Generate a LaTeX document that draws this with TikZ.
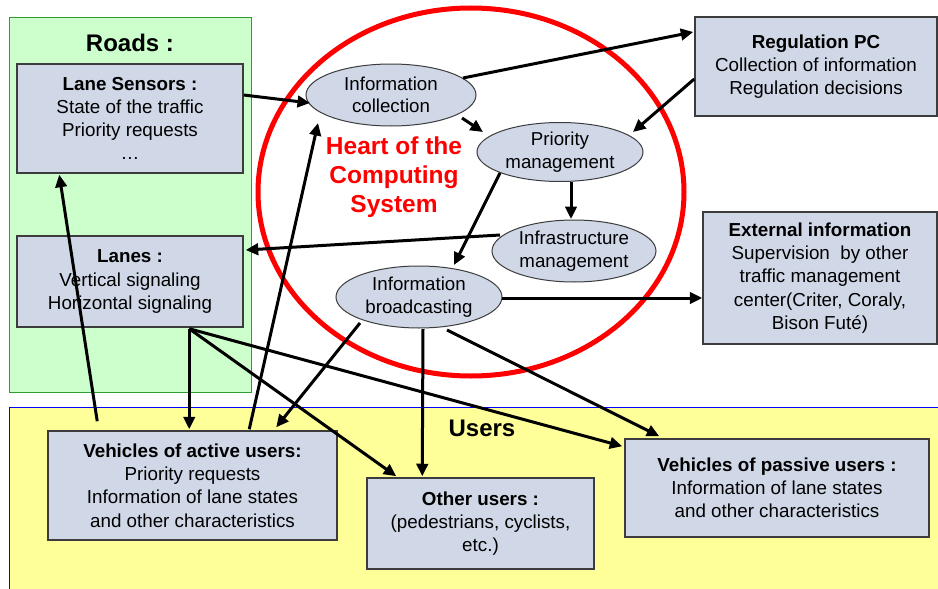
\documentclass[tikz,border=0pt]{standalone}
\usepackage{fontspec}
\setmainfont{Liberation Sans}
\usetikzlibrary{arrows.meta,calc,shapes.geometric}
\definecolor{boxfill}{RGB}{208,216,232}
\definecolor{boxline}{RGB}{60,60,60}
\definecolor{roadfill}{RGB}{204,255,204}
\definecolor{roadline}{RGB}{51,153,51}
\definecolor{userfill}{RGB}{255,255,153}
\definecolor{userline}{RGB}{0,0,255}
\definecolor{heartred}{RGB}{255,0,0}
\newcommand{\boxfont}{\fontsize{18.8}{23.2}\selectfont}
\newcommand{\ellfont}{\fontsize{18.7}{22.5}\selectfont}
\tikzset{
  infobox/.style={draw=boxline, line width=1.5pt, fill=boxfill, inner sep=0pt, align=center, font=\boxfont},
  ellnode/.style={ellipse, draw=boxline, line width=1pt, fill=boxfill, inner sep=0pt},
  elltext/.style={align=center, font=\ellfont, inner sep=0pt},
  arr/.style={line width=3pt, -{Triangle[length=12.5pt,width=11.5pt]}},
  zonetitle/.style={font=\fontsize{24}{28}\selectfont\bfseries, inner sep=0pt}
}
\begin{document}
\begin{tikzpicture}[x=1pt,y=-1pt]
\useasboundingbox (0,0) rectangle (938,589);
\clip (0,0) rectangle (938,589);
\fill[white] (0,0) rectangle (938,589);
% zones
\draw[fill=roadfill, draw=roadline, line width=1pt] (9,17) rectangle (251,392);
\draw[fill=userfill, draw=userline, line width=1pt] (9,407) rectangle (940,600);
\node[zonetitle] (roads) at (130,43) {Roads :};
\node[zonetitle] (users) at (482,428) {Users};
% boxes
\node[infobox, minimum width=226pt, minimum height=109pt] (ls) at (130,118.5)
  {\textbf{Lane Sensors :}\\State of the traffic\\Priority requests\\\ldots};
\node[infobox, minimum width=226pt, minimum height=91pt] (lanes) at (130,281.5)
  {\textbf{Lanes :}\\Vertical signaling\\Horizontal signaling};
\node[infobox, minimum width=289pt, minimum height=109pt] (active) at (192.5,485.5)
  {\textbf{Vehicles of active users:}\\Priority requests\\Information of lane states\\and other characteristics};
\node[infobox, minimum width=227pt, minimum height=91pt] (other) at (480.5,523.5)
  {\textbf{Other users :}\\(pedestrians, cyclists,\\etc.)};
\node[infobox, minimum width=304pt, minimum height=98pt] (passive) at (777,488)
  {\textbf{Vehicles of passive users :}\\Information of lane states\\and other characteristics};
\node[infobox, minimum width=242pt, minimum height=99pt] (rpc) at (816,66.5)
  {\textbf{Regulation PC}\\Collection of information\\Regulation decisions};
\node[infobox, minimum width=234pt, minimum height=132pt] (ext) at (820,278)
  {\textbf{External information}\\Supervision\ \ by other\\traffic management\\center(Criter, Coraly,\\Bison Futé)};
% heart circle
\draw[heartred, line width=5pt] (471,192) ellipse [x radius=213, y radius=184];
\node[align=center, text=heartred, font=\fontsize{24.5}{29}\selectfont\bfseries, inner sep=0pt] (heart) at (394,177)
  {Heart of the\\Computing\\System};
% ellipses
\node[ellnode, minimum width=170pt, minimum height=62pt] (ic) at (391,95) {};
\node[elltext] at (ic) {Information\\collection};
\node[ellnode, minimum width=166pt, minimum height=59pt] (pm) at (560,152) {};
\node[elltext] at (pm) {Priority\\management};
\node[ellnode, minimum width=164pt, minimum height=62pt] (im) at (574,251) {};
\node[elltext] at (im) {Infrastructure\\management};
\node[ellnode, minimum width=166pt, minimum height=62pt] (ib) at (419,297) {};
\node[elltext] at (ib) {Information\\broadcasting};
% arrows
\draw[arr] ($(ls.east)+(0,-23.5)$) -- ($(ic)+(-81,8)$);
\draw[arr] ($(ic)+(72,-17)$) -- ($(rpc.west)+(-1,-34.5)$);
\draw[arr] ($(rpc.west)+(0,12.5)$) -- ($(pm)+(73,-20)$);
\draw[arr] ($(ic)+(71,23)$) -- ($(pm)+(-77,-20)$);
\draw[arr] ($(pm)+(11,30)$) -- ($(im)+(-3,-32)$);
\draw[arr] ($(pm)+(-60,21)$) -- ($(ib)+(35,-32)$);
\draw[arr] ($(im)+(-74,-16)$) -- ($(lanes.east)+(2,-31.5)$);
\draw[arr] ($(ib)+(83,1)$) -- ($(ext.west)+(0,20)$);
\draw[arr] ($(ib)+(4,32)$) -- ($(other.north west)+(56,-1)$);
\draw[arr] ($(ib)+(28,33)$) -- ($(passive.north west)+(35,-2)$);
\draw[arr] ($(ib)+(-59,26)$) -- ($(active.north west)+(229,-3)$);
\draw[arr] ($(lanes.south west)+(173,1)$) -- ($(active.north west)+(142,-1)$);
\draw[arr] ($(lanes.south west)+(173,1)$) -- ($(other.north west)+(30,-1)$);
\draw[arr] ($(lanes.south west)+(173,1)$) -- ($(passive.north west)+(-2,8)$);
\draw[arr] ($(active.north west)+(50,-9)$) -- ($(ls.south west)+(43,1)$);
\draw[arr] ($(active.north west)+(202,-1)$) -- ($(ic)+(-73,28)$);
\end{tikzpicture}
\end{document}
